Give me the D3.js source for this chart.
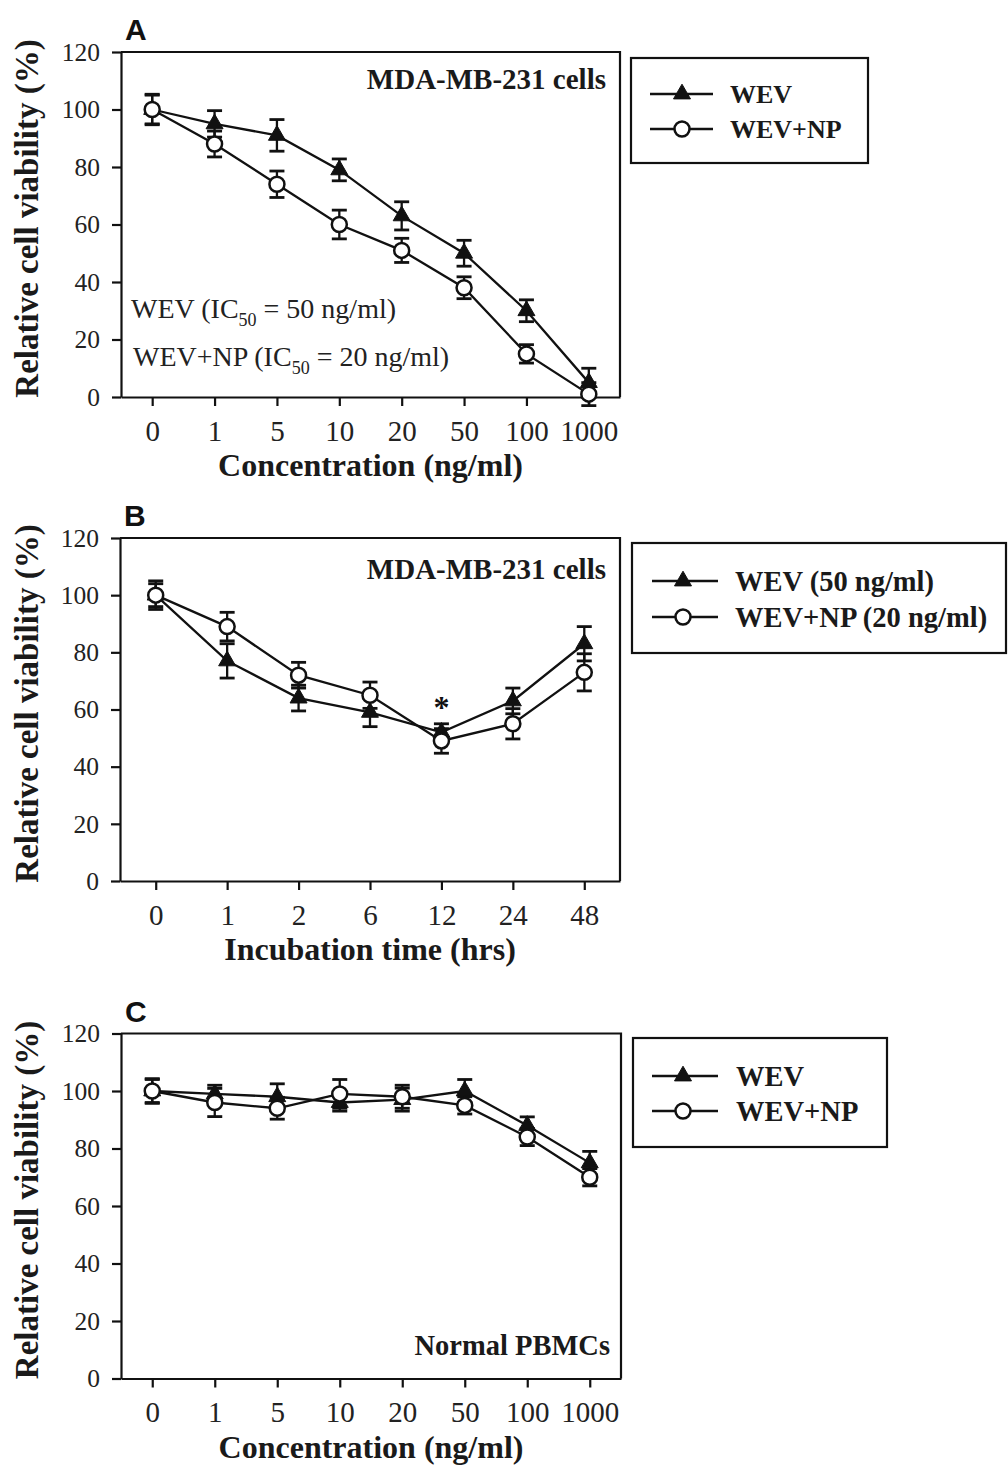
<!DOCTYPE html>
<html><head><meta charset="utf-8">
<script src="https://cdn.jsdelivr.net/npm/d3@7"></script>
<style>body{margin:0;background:#fff} svg{display:block}</style>
</head><body><svg id="c" width="1008" height="1467"></svg>
<script>
// ---------- data ----------
const concCats = ["0","1","5","10","20","50","100","1000"];
const timeCats = ["0","1","2","6","12","24","48"];
const yTicks = [0,20,40,60,80,100,120];

const aWEV    = [100,95,91,79,63,50,30,5];
const aWEVErr = [5,4.6,5.5,3.8,4.9,4.5,3.8,5];
const aNP     = [100,88,74,60,51,38,15,1];
const aNPErr  = [5.3,4.5,4.6,5,4.2,3.8,3.2,4];

const bWEV    = [100,77,64,59,52,63,83];
const bWEVErr = [4,6,4.5,5,3,4.5,6];
const bNP     = [100,89,72,65,49,55,73];
const bNPErr  = [5,5,4.5,4.6,4.3,5.3,6.5];

const cWEV    = [100,99,98,96,97,100,88,75];
const cWEVErr = [4,3,4.5,3,4,4,3,4];
const cNP     = [100,96,94,99,98,95,84,70];
const cNPErr  = [4.3,4.9,3.8,5,4,3,3,3];

const legendA = ["WEV","WEV+NP"];
const legendB = ["WEV (50 ng/ml)","WEV+NP (20 ng/ml)"];
const legendC = ["WEV","WEV+NP"];

const bSigCat = "12", bSigVal = 57;

// ---------- drawing ----------
const SERIF = "'Liberation Serif','Times New Roman',Times,serif";
const SANS = "'Liberation Sans',Arial,Helvetica,sans-serif";
const INK = "#111";
const svg = d3.select("#c");

function drawPanel(cfg){
  const g = svg.append("g");
  const x = d3.scalePoint().domain(cfg.cats).range([cfg.x0,cfg.x1]).padding(0.5);
  const y = d3.scaleLinear().domain([0,120]).range([cfg.y1,cfg.y0]);

  // frame top + right
  g.append("path")
    .attr("d",`M${cfg.x0},${y(120)}H${cfg.x1}V${y(0)}`)
    .attr("fill","none").attr("stroke",INK).attr("stroke-width",2.2);

  const yAx = g.append("g").attr("transform",`translate(${cfg.x0},0)`)
    .call(d3.axisLeft(y).tickValues(yTicks).tickSize(9).tickSizeOuter(0).tickPadding(12));
  const xAx = g.append("g").attr("transform",`translate(0,${cfg.y1})`)
    .call(d3.axisBottom(x).tickSize(9).tickSizeOuter(0).tickPadding(14));
  [yAx,xAx].forEach(a=>{
    a.select(".domain").attr("stroke",INK).attr("stroke-width",2.2);
    a.selectAll(".tick line").attr("stroke",INK).attr("stroke-width",2.2);
    a.selectAll("text").attr("fill","#222").attr("font-family",SERIF);
  });
  yAx.selectAll("text").attr("font-size",25.5);
  xAx.selectAll("text").attr("font-size",29);

  // axis titles
  const cy = (cfg.y0+cfg.y1)/2 - 6;
  g.append("text").attr("transform",`translate(38,${cy}) rotate(-90)`)
    .attr("text-anchor","middle").attr("font-family",SERIF).attr("font-weight","bold")
    .attr("font-size",33).attr("fill","#1a1a1a").text("Relative cell viability (%)");
  g.append("text").attr("x",(cfg.x0+cfg.x1)/2).attr("y",cfg.y1+79)
    .attr("text-anchor","middle").attr("font-family",SERIF).attr("font-weight","bold")
    .attr("font-size",32).attr("fill","#1a1a1a").text(cfg.xTitle);

  // panel letter
  g.append("text").attr("x",cfg.x0+4).attr("y",cfg.y0-12)
    .attr("font-family",SANS).attr("font-weight","bold").attr("font-size",30)
    .attr("fill","#111").text(cfg.letter);

  const series = [
    {vals:cfg.wev, err:cfg.wevErr, type:"tri"},
    {vals:cfg.np, err:cfg.npErr, type:"circ"}
  ];
  const line = d3.line().x((d,i)=>x(cfg.cats[i])).y(d=>y(d));
  series.forEach(s=>{
    g.append("path").attr("d",line(s.vals)).attr("fill","none")
      .attr("stroke",INK).attr("stroke-width",2.3);
  });
  // error bars
  series.forEach(s=>{
    s.vals.forEach((v,i)=>{
      const cx = x(cfg.cats[i]), lo = y(v - s.err[i]), hi = y(v + s.err[i]);
      g.append("line").attr("x1",cx).attr("x2",cx).attr("y1",lo).attr("y2",hi)
        .attr("stroke",INK).attr("stroke-width",2.3);
      [lo,hi].forEach(yy=>g.append("line").attr("x1",cx-7.5).attr("x2",cx+7.5)
        .attr("y1",yy).attr("y2",yy).attr("stroke",INK).attr("stroke-width",2.8));
    });
  });
  // markers
  series.forEach(s=>{
    s.vals.forEach((v,i)=>drawMarker(g,s.type,x(cfg.cats[i]),y(v)));
  });

  // in-plot text
  cfg.extra && cfg.extra(g,x,y);

  // legend
  const L = cfg.legend;
  g.append("rect").attr("x",L.x0).attr("y",L.y0).attr("width",L.x1-L.x0).attr("height",L.y1-L.y0)
    .attr("fill","none").attr("stroke",INK).attr("stroke-width",2.2);
  cfg.legendLabels.forEach((lab,k)=>{
    const ry = L.rows[k];
    g.append("line").attr("x1",L.lx0).attr("x2",L.lx1).attr("y1",ry).attr("y2",ry)
      .attr("stroke",INK).attr("stroke-width",2.3);
    drawMarker(g,k===0?"tri":"circ",L.mx,ry);
    g.append("text").attr("x",L.tx).attr("y",ry).attr("dy","0.35em")
      .attr("font-family",SERIF).attr("font-weight","bold").attr("font-size",L.fs)
      .attr("fill","#1a1a1a").text(lab);
  });
}

function drawMarker(g,type,cx,cy){
  if(type==="tri"){
    g.append("path").attr("d",d3.symbol(d3.symbolTriangle,125)())
      .attr("transform",`translate(${cx},${cy})`).attr("fill","#111")
      .attr("stroke","#111").attr("stroke-width",1);
  } else {
    g.append("circle").attr("cx",cx).attr("cy",cy).attr("r",7.5)
      .attr("fill","#fff").attr("stroke",INK).attr("stroke-width",2.5);
  }
}

drawPanel({
  letter:"A", cats:concCats, x0:121, x1:620, y0:52, y1:397,
  wev:aWEV, wevErr:aWEVErr, np:aNP, npErr:aNPErr,
  xTitle:"Concentration (ng/ml)", legendLabels:legendA,
  legend:{x0:631,x1:868,y0:58,y1:163,lx0:650,lx1:713,mx:682,tx:730,rows:[94,129],fs:26},
  extra:(g)=>{
    g.append("text").attr("x",606).attr("y",89).attr("text-anchor","end")
      .attr("font-family",SERIF).attr("font-weight","bold").attr("font-size",29)
      .attr("fill","#1a1a1a").text("MDA-MB-231 cells");
    [["WEV (IC","50"," = 50 ng/ml)",131,318],["WEV+NP (IC","50"," = 20 ng/ml)",133,366]].forEach(r=>{
      const t = g.append("text").attr("x",r[3]).attr("y",r[4])
        .attr("font-family",SERIF).attr("font-size",28).attr("fill","#222");
      t.append("tspan").text(r[0]);
      t.append("tspan").attr("font-size",18).attr("dy",8).text(r[1]);
      t.append("tspan").attr("dy",-8).text(r[2]);
    });
  }
});

drawPanel({
  letter:"B", cats:timeCats, x0:120, x1:620, y0:538, y1:881,
  wev:bWEV, wevErr:bWEVErr, np:bNP, npErr:bNPErr,
  xTitle:"Incubation time (hrs)", legendLabels:legendB,
  legend:{x0:632,x1:1006,y0:543,y1:653,lx0:652,lx1:718,mx:683,tx:735,rows:[581,617],fs:28.5},
  extra:(g,x,y)=>{
    g.append("text").attr("x",606).attr("y",579).attr("text-anchor","end")
      .attr("font-family",SERIF).attr("font-weight","bold").attr("font-size",29)
      .attr("fill","#1a1a1a").text("MDA-MB-231 cells");
    g.append("text").attr("x",x(bSigCat)).attr("y",y(bSigVal)).attr("text-anchor","middle")
      .attr("font-family",SERIF).attr("font-weight","bold").attr("font-size",32)
      .attr("fill","#111").text("*");
  }
});

drawPanel({
  letter:"C", cats:concCats, x0:121, x1:621, y0:1033.5, y1:1378.5,
  wev:cWEV, wevErr:cWEVErr, np:cNP, npErr:cNPErr,
  xTitle:"Concentration (ng/ml)", legendLabels:legendC,
  legend:{x0:633,x1:887,y0:1038,y1:1147,lx0:652,lx1:718,mx:683,tx:736,rows:[1076,1111],fs:28.5},
  extra:(g)=>{
    g.append("text").attr("x",610).attr("y",1355).attr("text-anchor","end")
      .attr("font-family",SERIF).attr("font-weight","bold").attr("font-size",28.5)
      .attr("fill","#1a1a1a").text("Normal PBMCs");
  }
});
</script></body></html>
